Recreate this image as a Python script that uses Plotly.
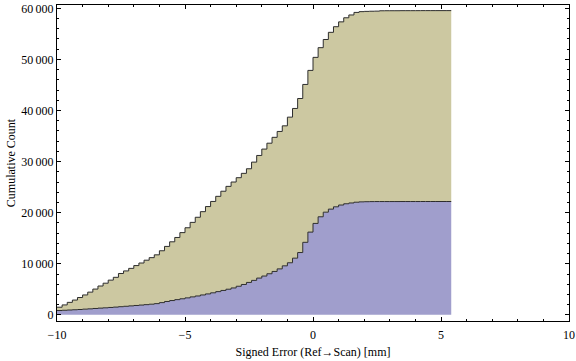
import plotly.graph_objects as go

# ---- data (cumulative counts per 0.2 mm bin) ----
bin_start = -10.0
bin_width = 0.2

series_lower = [
    850, 900, 950, 1000, 1050, 1120, 1180, 1250, 1320, 1380,
    1450, 1520, 1600, 1680, 1760, 1840, 1920, 2000, 2090, 2200,
    2400, 2620, 2800, 2980, 3150, 3330, 3520, 3700, 3900, 4100,
    4320, 4550, 4780, 5020, 5270, 5600, 5950, 6350, 6750, 7200,
    7600, 8050, 8500, 9000, 9600, 10200, 11100, 12200, 14200, 16200,
    17900, 19200, 20100, 20700, 21150, 21500, 21750, 21900, 22050, 22120,
    22150, 22170, 22180, 22180, 22180, 22180, 22180, 22185, 22185, 22185,
    22185, 22190, 22190, 22190, 22190, 22190, 22190,
]

series_upper = [
    650, 1050, 1500, 1900, 2350, 2780, 3270, 3800, 4330, 4820,
    5350, 5830, 6500, 6920, 7340, 7810, 8230, 8700, 9110, 9550,
    10150, 10780, 11500, 12170, 12950, 13720, 14580, 15400, 16300, 17100,
    17880, 18650, 19420, 20130, 20730, 21250, 21750, 22250, 23150, 24000,
    24850, 25550, 26250, 26900, 27400, 28500, 29300, 30150, 30900, 31650,
    32500, 33100, 33800, 34600, 35250, 35850, 36400, 36800, 37150, 37230,
    37250, 37260, 37270, 37340, 37350, 37350, 37350, 37355, 37355, 37355,
    37360, 37360, 37360, 37360, 37360, 37360, 37360,
]

x_ticks = [-10, -5, 0, 5, 10]
x_tick_labels = ["\u221210", "\u22125", "0", "5", "10"]
y_ticks = [0, 10000, 20000, 30000, 40000, 50000, 60000]
y_tick_labels = ["0", "10\u2009000", "20\u2009000", "30\u2009000", "40\u2009000", "50\u2009000", "60\u2009000"]

x_title = "Signed Error (Ref\u2192Scan) [mm]"
y_title = "Cumulative Count"

# ---- figure ----
n = len(series_lower)
edges = [round(bin_start + bin_width * i, 6) for i in range(n + 1)]
y_lower = series_lower + [series_lower[-1]]
y_upper = series_upper + [series_upper[-1]]

edge_color = "rgb(45,45,45)"
fig = go.Figure()
fig.add_trace(go.Scatter(
    x=edges, y=y_lower, mode="lines", stackgroup="cum",
    line=dict(shape="hv", color=edge_color, width=1),
    fillcolor="rgb(160,158,204)", hoverinfo="skip", showlegend=False,
))
fig.add_trace(go.Scatter(
    x=edges, y=y_upper, mode="lines", stackgroup="cum",
    line=dict(shape="hv", color=edge_color, width=1),
    fillcolor="rgb(204,200,161)", hoverinfo="skip", showlegend=False,
))

font = dict(family="Liberation Serif, DejaVu Serif, serif", size=12, color="black")

axis_common = dict(
    showgrid=False, zeroline=False, showline=True, linecolor="black", linewidth=1,
    mirror="allticks", ticks="inside", ticklen=4, tickwidth=1, tickcolor="black",
    tickfont=font, automargin=False,
)

fig.update_layout(
    width=576, height=361,
    margin=dict(l=57, r=7, t=5, b=40),
    paper_bgcolor="white", plot_bgcolor="white",
    font=font,
    xaxis=dict(
        range=[-10, 10], tickmode="array", tickvals=x_ticks, ticktext=x_tick_labels,
        minor=dict(dtick=1, tick0=0, ticks="inside", ticklen=2, tickcolor="black", showgrid=False),
        title=dict(text=x_title, font=font, standoff=6),
        ticklabelstandoff=3,
        **axis_common,
    ),
    yaxis=dict(
        range=[-1200, 60650], tickmode="array", tickvals=y_ticks, ticktext=y_tick_labels,
        minor=dict(dtick=2000, tick0=0, ticks="inside", ticklen=2, tickcolor="black", showgrid=False),
        title=dict(text=y_title, font=font, standoff=2),
        **axis_common,
    ),
)

fig.write_html(
    "out.html",
    config={"displayModeBar": False},
    post_script="document.body.style.margin='0';document.body.style.padding='0';",
)
